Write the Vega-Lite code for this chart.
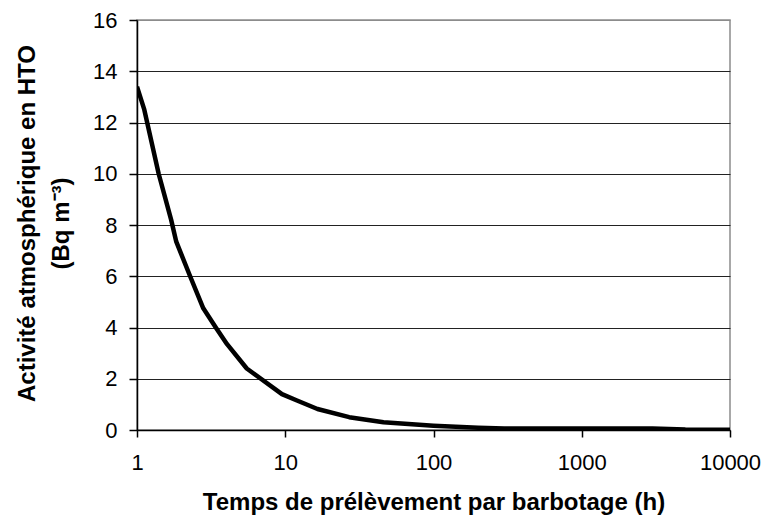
{
  "$schema": "https://vega.github.io/schema/vega-lite/v6.json",
  "autosize": {"type": "none"},
  "padding": {"left": 137, "top": 20, "right": 36, "bottom": 93},
  "width": 593,
  "height": 410,
  "background": "white",
  "config": {
    "view": {"stroke": "#8c8c8c", "strokeWidth": 1.5},
    "font": "Liberation Sans"
  },
  "data": {
    "values": [
      {"t": 1, "a": 13.4},
      {"t": 1.12, "a": 12.5},
      {"t": 1.4, "a": 10.0},
      {"t": 1.7, "a": 8.2},
      {"t": 1.84, "a": 7.35},
      {"t": 2.3, "a": 5.95},
      {"t": 2.8, "a": 4.75},
      {"t": 3.4, "a": 4.0},
      {"t": 4.05, "a": 3.35},
      {"t": 5.5, "a": 2.4},
      {"t": 9.5, "a": 1.4},
      {"t": 12, "a": 1.15},
      {"t": 16.5, "a": 0.82},
      {"t": 27, "a": 0.5},
      {"t": 46, "a": 0.3},
      {"t": 100, "a": 0.17},
      {"t": 200, "a": 0.09},
      {"t": 300, "a": 0.06},
      {"t": 1000, "a": 0.06},
      {"t": 3000, "a": 0.06},
      {"t": 5000, "a": 0.02},
      {"t": 10000, "a": 0.01}
    ]
  },
  "mark": {"type": "line", "color": "black", "strokeWidth": 4.5, "strokeJoin": "round", "clip": true},
  "encoding": {
    "x": {
      "field": "t",
      "type": "quantitative",
      "scale": {"type": "log", "domain": [1, 10000], "nice": false},
      "axis": {
        "title": "Temps de prélèvement par barbotage (h)",
        "values": [1, 10, 100, 1000, 10000],
        "format": "d",
        "grid": false,
        "domainColor": "black",
        "domainWidth": 1.5,
        "tickColor": "black",
        "tickWidth": 1.5,
        "tickSize": 7,
        "labelPadding": 15,
        "labelFontSize": 22,
        "labelColor": "black",
        "labelFont": "Liberation Sans",
        "labelFlush": false,
        "titleFont": "Liberation Sans",
        "titleFontSize": 24,
        "titleFontWeight": "bold",
        "titleColor": "black",
        "titleBaseline": "middle",
        "titleY": 72
      }
    },
    "y": {
      "field": "a",
      "type": "quantitative",
      "scale": {"domain": [0, 16], "nice": false},
      "axis": {
        "title": ["Activité atmosphérique en HTO", "(Bq m⁻³)"],
        "values": [0, 2, 4, 6, 8, 10, 12, 14, 16],
        "grid": true,
        "gridColor": {"condition": {"test": "datum.value == 16", "value": "#8c8c8c"}, "value": "#222222"},
        "gridWidth": 1.2,
        "domainColor": "black",
        "domainWidth": 1.5,
        "tickColor": "black",
        "tickWidth": 1.5,
        "tickSize": 8,
        "labelPadding": 12,
        "labelFontSize": 22,
        "labelColor": "black",
        "labelFont": "Liberation Sans",
        "labelFlush": false,
        "titleFont": "Liberation Sans",
        "titleFontSize": 24,
        "titleFontWeight": "bold",
        "titleColor": "black",
        "titleAngle": -90,
        "titleAlign": "center",
        "titleBaseline": "middle",
        "titleLineHeight": 34,
        "titleX": -110,
        "titleY": 203
      }
    }
  }
}
